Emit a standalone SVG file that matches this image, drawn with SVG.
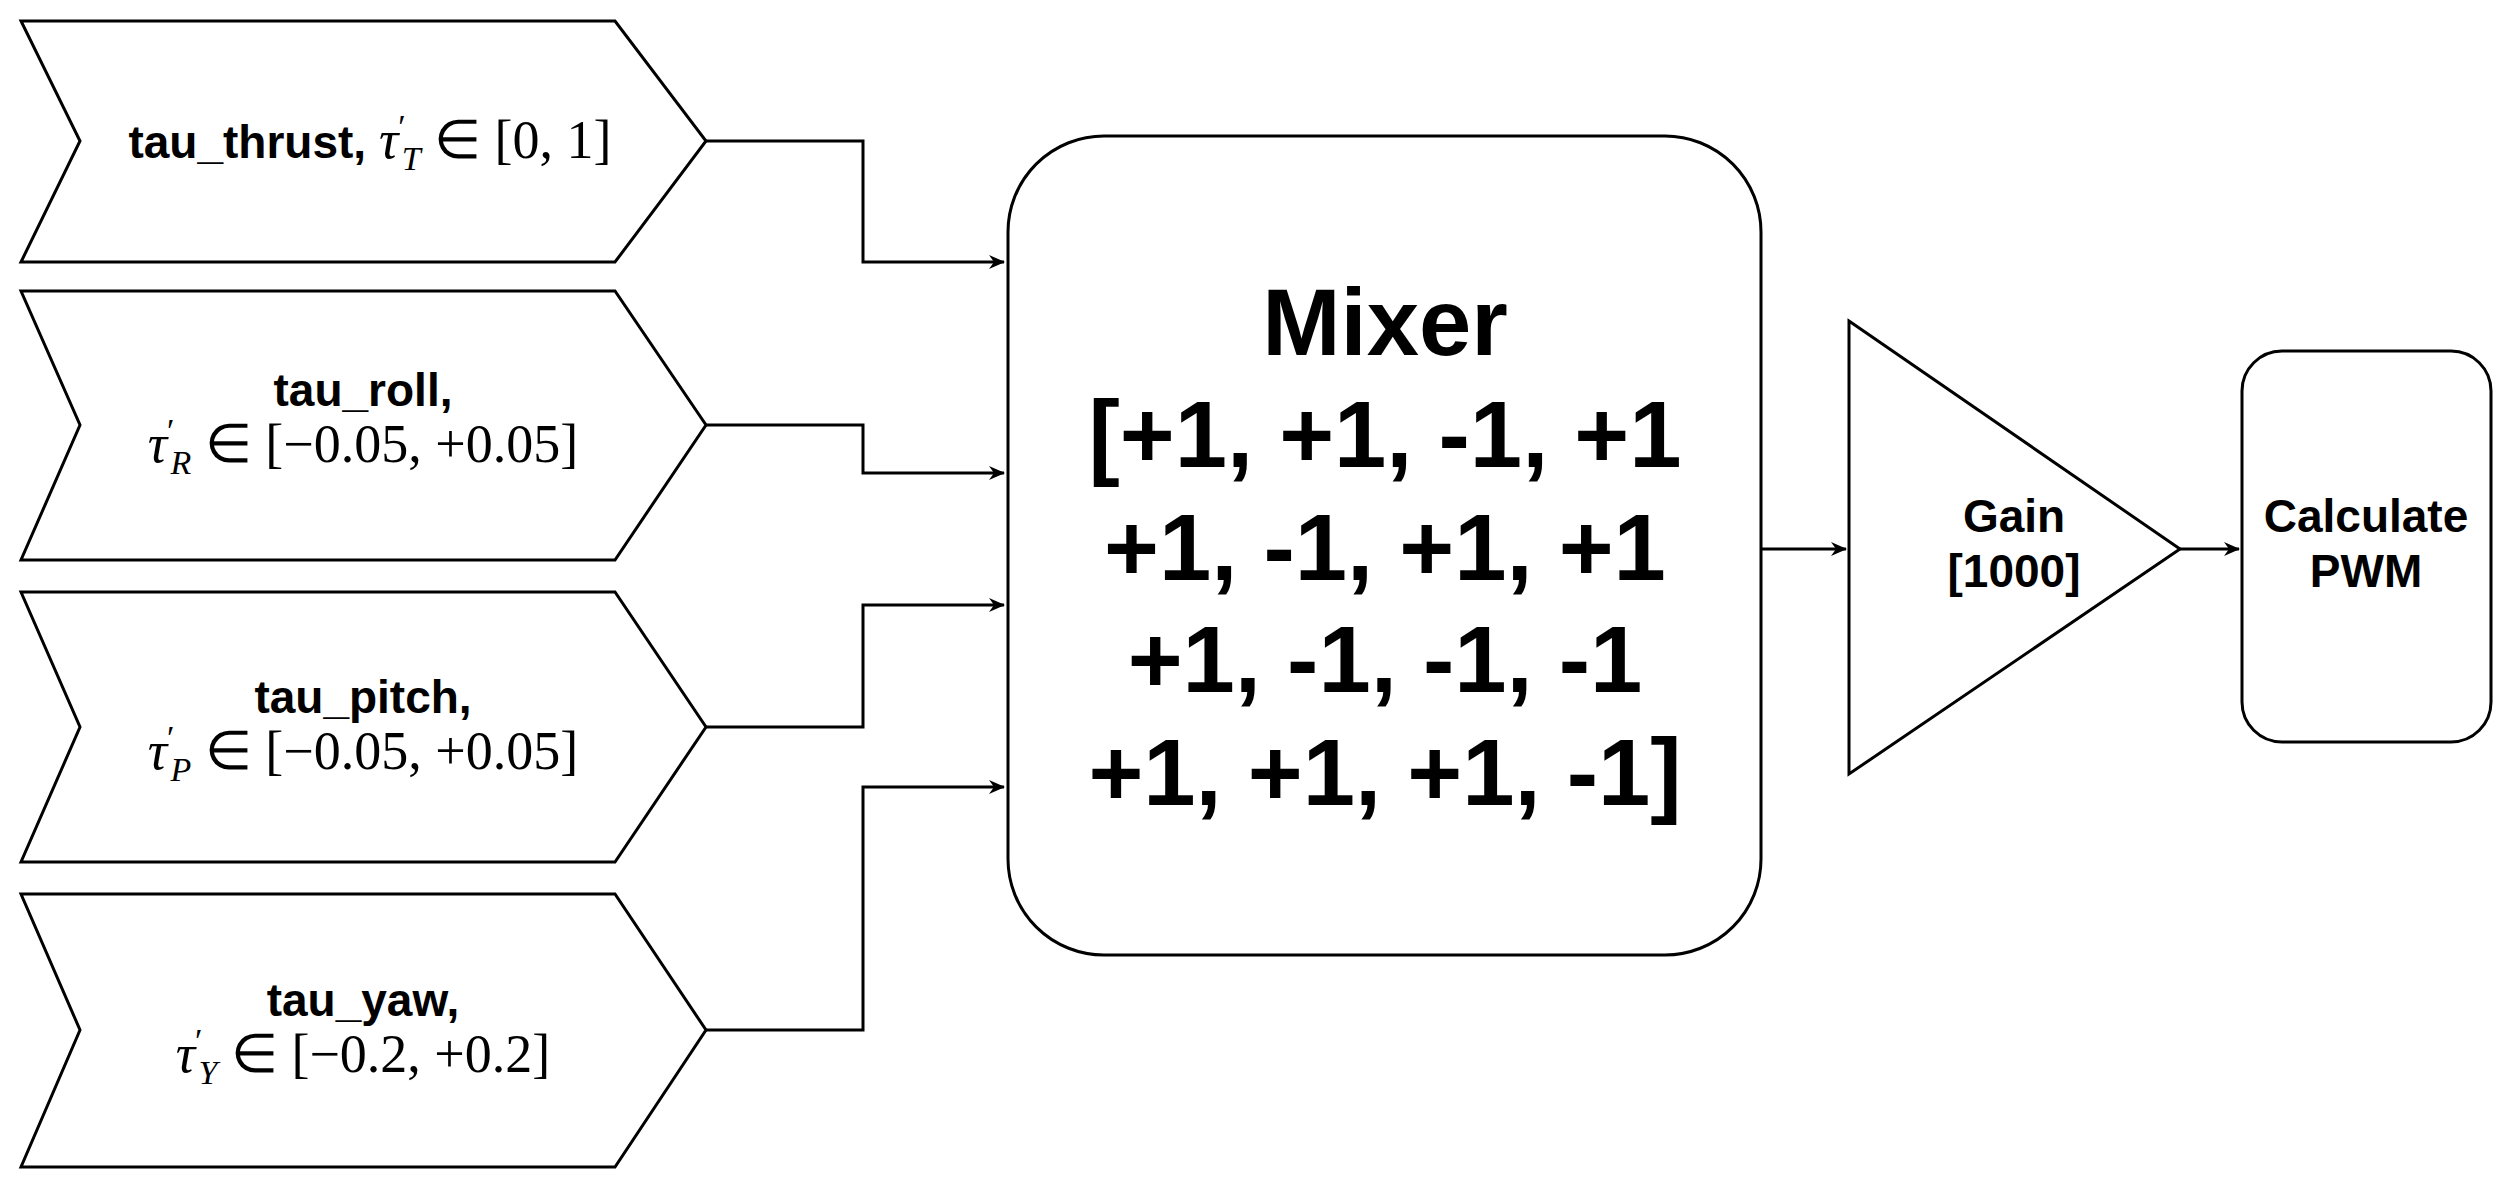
<svg xmlns="http://www.w3.org/2000/svg" width="2517" height="1186" viewBox="0 0 2517 1186">
<style>
.s{fill:#fff;stroke:#000;stroke-width:3}
.l{font-family:"Liberation Sans",Arial,sans-serif;font-weight:bold;font-size:46px;text-anchor:middle}
.g{font-family:"Liberation Sans",Arial,sans-serif;font-weight:bold;font-size:46px;text-anchor:middle}
.m{font-family:"Liberation Serif","Times New Roman",serif;font-weight:normal;font-size:54px}
.sb{font-size:34px}
.i{font-style:italic}
.c{fill:none;stroke:#000;stroke-width:3}
.big{font-family:"Liberation Sans",Arial,sans-serif;font-weight:bold;font-size:94px;text-anchor:middle}
</style>
<defs><marker id="b" markerWidth="16" markerHeight="16" refX="15" refY="8" orient="auto" markerUnits="userSpaceOnUse" viewBox="0 0 16 16"><path d="M0,1 L16,8 L0,15 L5,8 Z" fill="#000"/></marker></defs>
<g id="thrust"><path class="s" d="M21,21 H615 L706,141 L615,262 H21 L80,141 Z"/>
<text class="l" x="370" y="158">tau_thrust, <tspan class="m i">τ</tspan><tspan class="m sb" dy="-20">′</tspan><tspan class="m i sb" dx="-4" dy="32">T</tspan><tspan class="m" dy="-12"> ∈ [0, 1]</tspan></text></g>
<g id="roll"><path class="s" d="M21,291 H615 L706,425 L615,560 H21 L80,425 Z"/>
<text class="l" x="363" y="406">tau_roll,</text>
<text class="l" x="363" y="462"><tspan class="m i">τ</tspan><tspan class="m sb" dy="-20">′</tspan><tspan class="m i sb" dx="-4" dy="32">R</tspan><tspan class="m" dy="-12"> ∈ [−0.05, +0.05]</tspan></text></g>
<g id="pitch"><path class="s" d="M21,592 H615 L706,727 L615,862 H21 L80,727 Z"/>
<text class="l" x="363" y="713">tau_pitch,</text>
<text class="l" x="363" y="769"><tspan class="m i">τ</tspan><tspan class="m sb" dy="-20">′</tspan><tspan class="m i sb" dx="-4" dy="32">P</tspan><tspan class="m" dy="-12"> ∈ [−0.05, +0.05]</tspan></text></g>
<g id="yaw"><path class="s" d="M21,894 H615 L706,1030 L615,1167 H21 L80,1030 Z"/>
<text class="l" x="363" y="1016">tau_yaw,</text>
<text class="l" x="363" y="1072"><tspan class="m i">τ</tspan><tspan class="m sb" dy="-20">′</tspan><tspan class="m i sb" dx="-4" dy="32">Y</tspan><tspan class="m" dy="-12"> ∈ [−0.2, +0.2]</tspan></text></g>
<g id="mixer"><rect class="s" x="1008" y="136" width="753" height="819" rx="96"/>
<text class="big" x="1385" y="355">Mixer</text>
<text class="big" x="1385" y="467">[+1, +1, -1, +1</text>
<text class="big" x="1385" y="580">+1, -1, +1, +1</text>
<text class="big" x="1385" y="692">+1, -1, -1, -1</text>
<text class="big" x="1385" y="805">+1, +1, +1, -1]</text></g>
<g id="gain"><path class="s" d="M1849,321 L2180,549 L1849,774 Z"/>
<text class="g" x="2014" y="532">Gain</text><text class="g" x="2014" y="587">[1000]</text></g>
<g id="pwm"><rect class="s" x="2242" y="351" width="249" height="391" rx="40"/>
<text class="g" x="2366" y="532">Calculate</text><text class="g" x="2366" y="587">PWM</text></g>
<g id="connectors">
<path class="c" d="M706,141 H863 V262 H1004" marker-end="url(#b)"/>
<path class="c" d="M706,425 H863 V473 H1004" marker-end="url(#b)"/>
<path class="c" d="M706,727 H863 V605 H1004" marker-end="url(#b)"/>
<path class="c" d="M706,1030 H863 V787 H1004" marker-end="url(#b)"/>
<path class="c" d="M1761,549 H1846" marker-end="url(#b)"/>
<path class="c" d="M2180,549 H2239" marker-end="url(#b)"/>
</g>
</svg>
